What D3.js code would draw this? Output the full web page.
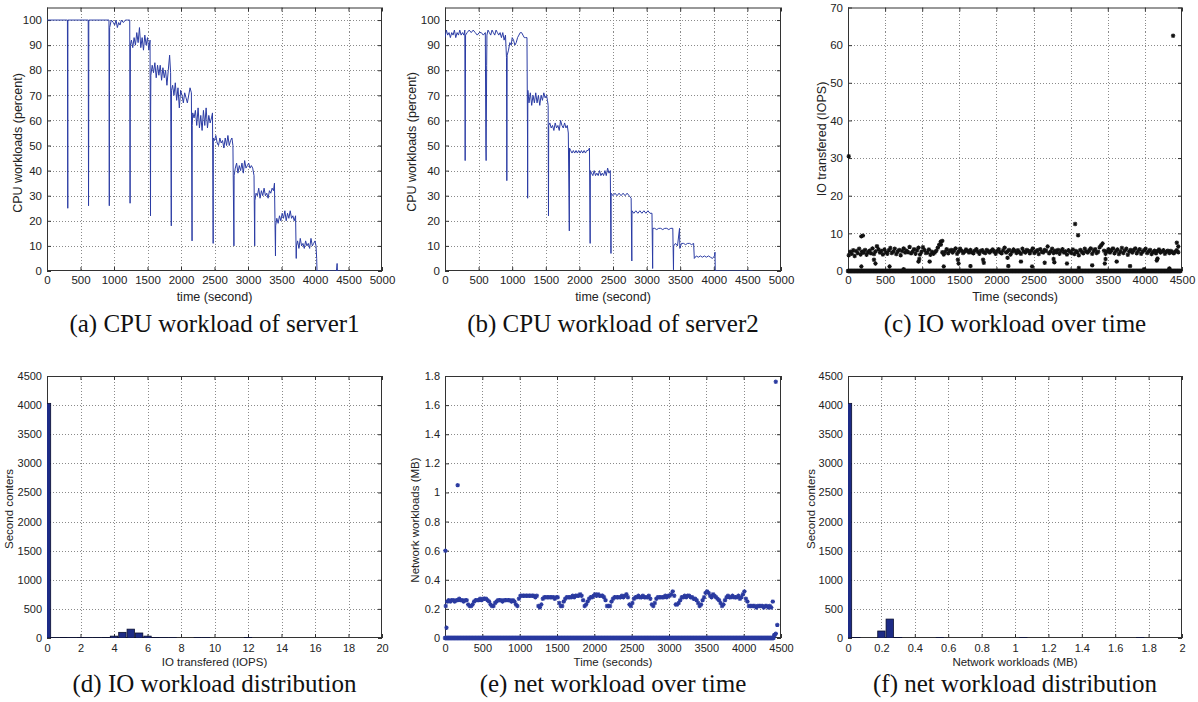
<!DOCTYPE html>
<html><head><meta charset="utf-8">
<script src="https://cdn.jsdelivr.net/npm/d3@7"></script>
<style>
body{margin:0;background:#fff}
.grid{stroke:#8a8a8a;stroke-width:1;stroke-dasharray:1,2;shape-rendering:crispEdges}
.ax text{font-family:"Liberation Sans",Arial,sans-serif;fill:#222}
.ax line{stroke:#333}
.ax path{display:none}
</style>
</head><body><svg id="c" width="1198" height="702"></svg>
<script>
// ---------- DATA ----------
// (a) CPU workload of server1: [time (s), percent]
const cpu1 = [[0,100],[305,100],[310,25],[312,100],[615,100],[620,26],[622,50],[624,100],[925,100],[930,26],[932,72],[935,97],[960,100],[990,99],[1010,98],[1030,100],[1050,97],[1070,99],[1090,98],[1110,100],[1140,99],[1170,100],[1200,100],[1235,100],[1240,27],[1242,61],[1245,90],[1260,92],[1280,89],[1300,93],[1320,90],[1340,95],[1360,91],[1380,97],[1400,89],[1420,93],[1440,88],[1460,94],[1480,90],[1500,93],[1520,88],[1538,92],[1545,22],[1547,63],[1550,78],[1570,82],[1590,79],[1610,83],[1630,77],[1650,82],[1670,78],[1690,82],[1710,76],[1730,81],[1750,77],[1770,80],[1790,74],[1810,80],[1830,86],[1845,79],[1855,18],[1858,72],[1875,74],[1895,70],[1915,75],[1935,68],[1955,73],[1975,65],[1995,72],[2015,70],[2035,67],[2055,71],[2075,69],[2095,67],[2115,70],[2135,73],[2155,71],[2165,12],[2168,58],[2175,63],[2195,61],[2215,64],[2235,58],[2255,65],[2275,57],[2295,62],[2315,56],[2335,64],[2355,58],[2375,65],[2395,57],[2415,62],[2435,59],[2455,61],[2470,63],[2480,11],[2483,53],[2500,52],[2520,54],[2540,51],[2560,50],[2580,53],[2600,51],[2620,52],[2640,49],[2660,53],[2680,50],[2700,54],[2720,50],[2740,52],[2760,53],[2775,50],[2790,10],[2793,38],[2810,41],[2830,43],[2850,39],[2870,42],[2890,40],[2910,43],[2930,39],[2950,44],[2970,41],[2990,42],[3010,43],[3030,41],[3050,42],[3070,41],[3090,38],[3100,10],[3103,28],[3120,31],[3140,30],[3160,33],[3180,29],[3200,32],[3220,30],[3240,33],[3260,30],[3280,31],[3300,29],[3320,32],[3340,31],[3360,33],[3380,32],[3395,35],[3410,6],[3413,18],[3430,21],[3450,19],[3470,22],[3490,20],[3510,23],[3530,21],[3550,24],[3570,20],[3590,23],[3610,21],[3630,24],[3650,21],[3670,22],[3690,20],[3710,22],[3720,5],[3723,10],[3740,12],[3760,9],[3780,13],[3800,10],[3820,11],[3840,9],[3860,12],[3880,10],[3900,11],[3920,9],[3940,13],[3960,10],[3980,11],[4000,12],[4015,10],[4025,5],[4030,0],[4320,0],[4330,3],[4335,0],[4450,0]];

// (b) CPU workload of server2: [time (s), percent]
const cpu2 = [[0,93],[20,96],[40,94],[60,95],[80,93],[100,95],[120,94],[140,96],[160,93],[180,95],[200,94],[220,96],[240,94],[260,95],[280,94],[295,96],[300,44],[303,70],[306,94],[330,95],[360,96],[390,95],[420,96],[450,95],[480,94],[510,95],[540,95],[570,94],[600,95],[608,50],[612,44],[615,57],[620,82],[624,94],[640,96],[660,95],[680,94],[700,96],[720,95],[740,94],[760,96],[780,95],[800,94],[820,95],[840,93],[860,95],[880,92],[900,94],[915,85],[920,36],[922,51],[925,86],[945,88],[965,91],[985,90],[1000,93],[1020,92],[1040,90],[1060,91],[1080,93],[1100,94],[1120,95],[1140,95],[1160,94],[1180,93],[1200,93],[1220,93],[1228,53],[1230,29],[1233,72],[1250,67],[1270,71],[1290,66],[1310,70],[1330,67],[1350,71],[1370,67],[1390,70],[1410,66],[1430,70],[1450,68],[1470,71],[1490,69],[1510,70],[1525,68],[1535,66],[1540,22],[1543,58],[1560,59],[1580,57],[1600,58],[1620,56],[1640,59],[1660,57],[1680,58],[1700,56],[1720,60],[1740,58],[1760,57],[1780,59],[1800,57],[1820,58],[1835,55],[1850,16],[1853,49],[1870,48],[1890,47],[1910,48],[1930,47],[1950,48],[1970,47],[1990,48],[2010,47],[2030,48],[2050,47],[2070,48],[2090,47],[2110,48],[2130,48],[2150,49],[2160,11],[2163,40],[2180,39],[2200,38],[2220,40],[2240,38],[2260,39],[2280,38],[2300,40],[2320,38],[2340,39],[2360,38],[2380,40],[2400,38],[2420,41],[2440,39],[2460,40],[2470,7],[2473,31],[2500,30],[2530,31],[2560,30],[2590,31],[2620,30],[2650,31],[2680,30],[2710,31],[2740,30],[2770,29],[2780,4],[2783,24],[2810,23],[2840,24],[2870,23],[2900,24],[2930,23],[2960,24],[2990,23],[3020,24],[3050,23],[3080,23],[3090,1],[3093,17],[3120,17],[3150,16.5],[3180,17],[3210,17],[3240,16.5],[3270,17],[3300,17],[3330,16.5],[3360,17],[3390,17],[3400,0.5],[3403,10],[3430,11],[3460,10],[3490,17],[3495,9],[3520,11],[3550,11],[3580,10.5],[3610,11],[3640,11],[3670,10.5],[3700,11],[3710,5],[3740,6],[3770,5.5],[3800,6],[3830,5.5],[3860,6],[3890,5.5],[3920,6],[3950,5.5],[3980,5],[4010,6],[4018,7.5],[4022,0],[4580,0]];

// (c) IO transferred: regular samples (first sample time, sampling step in s) and values (IOPS)
const ioBandStart = 10, ioBandStep = 20;
const ioBand = [4.2,5.1,4.6,5.5,4.0,5.3,4.8,5.9,4.4,5.2,
4.9,5.6,4.3,5.0,5.4,4.7,6.0,4.5,5.2,6.6,
5.8,4.9,5.3,4.4,5.7,5.0,4.6,5.5,6.1,4.8,
5.2,5.9,4.5,5.1,5.6,4.2,5.3,6.0,4.9,5.4,
5.0,6.4,4.7,5.2,5.8,4.6,5.5,6.2,4.4,5.1,
6.3,5.6,4.8,5.0,5.7,4.3,5.1,4.6,4.9,5.4,
6.2,7.0,7.8,5.0,4.4,5.1,5.8,4.7,5.3,5.6,
4.9,5.5,6.0,4.6,5.2,5.9,5.4,4.8,5.1,5.7,
5.3,4.9,5.6,5.0,4.7,5.4,5.8,5.1,4.6,5.3,
5.5,5.0,4.8,5.6,5.2,4.9,5.4,5.7,5.1,4.6,
5.3,5.8,5.0,4.7,5.5,6.2,4.9,5.2,5.6,4.4,
5.1,5.7,5.3,4.8,5.5,5.0,4.6,5.9,5.2,4.9,
5.6,5.3,4.7,5.4,6.0,4.8,5.2,5.5,4.5,5.8,
5.1,4.9,5.6,5.3,6.5,4.7,5.2,5.9,4.8,5.4,
5.0,5.6,4.6,5.3,5.8,4.9,5.2,4.4,5.5,5.1,
4.8,5.7,4.5,5.3,5.0,4.2,5.6,5.1,4.7,5.9,
5.2,4.9,5.5,6.0,4.6,5.3,5.8,4.8,5.1,6.3,
6.8,7.3,5.4,4.6,5.2,5.8,4.9,5.5,6.0,4.7,
5.3,5.7,4.5,5.1,6.1,4.8,5.4,5.9,4.3,5.2,
5.6,4.9,5.5,6.0,4.7,5.3,5.8,4.6,5.1,5.5,
5.9,4.8,5.2,5.6,4.5,5.0,5.4,4.7,5.3,5.7,
4.9,5.2,5.5,4.6,5.1,5.4,4.8,5.3,5.0,4.7,
5.2,5.5,5.0];
// seconds with zero IO (dense row on the axis): start, end, step
const ioZeroStart = 0, ioZeroEnd = 4480, ioZeroStep = 8;
const ioOther = [[10,30.5],[180,9.2],[200,9.4],[1250,7.0],[1270,8.0],[3060,12.5],[3100,9.5],[4380,62.5],[4430,7.5],[4450,6.5],
[180,1.2],[350,3.0],[370,2.0],[560,1.2],[750,0.5],[950,2.5],[960,3.2],[1100,2.5],[1290,1.2],[1480,3.0],[1490,2.0],[1650,1.3],[1820,3.0],[1830,2.2],[2150,3.5],[2160,1.3],[2330,2.5],[2480,1.2],[2650,2.2],[2770,3.2],[2780,2.3],[2950,2.0],[3110,0.8],[3290,1.5],[3460,2.0],[3470,3.2],[3620,2.5],[3800,1.3],[3990,0.5],[4160,2.8],[4170,3.3],[4330,0.7]];

// (d) IO workload distribution: bin centres (IOPS) and second counters
const ioHistBins   = [0,0.5,1,1.5,2,2.5,3,3.5,4,4.5,5,5.5,6,6.5,7,7.5,9,9.5,12];
const ioHistCounts = [4030,5,8,6,10,5,6,8,32,97,152,86,32,8,6,5,6,5,8];

// (e) network workload: regular samples (MB)
const netBandStart = 10, netBandStep = 20;
const netBand = [0.22,0.25,0.26,0.25,0.26,0.26,0.25,0.26,0.26,0.27,0.26,0.26,0.25,0.26,0.26,
0.23,0.22,0.22,0.23,0.25,
0.26,0.26,0.26,0.27,0.26,0.27,0.27,0.27,0.26,0.25,0.23,
0.22,0.22,0.24,0.25,
0.26,0.26,0.26,0.25,0.26,0.26,0.26,0.26,0.26,0.25,0.26,0.25,0.23,0.22,
0.27,0.29,0.29,0.29,0.29,0.29,0.29,0.29,0.29,0.29,0.29,0.28,0.29,
0.22,0.21,0.23,
0.27,0.28,0.28,0.28,0.28,0.28,0.28,0.28,0.27,0.28,0.28,0.24,0.22,0.22,
0.25,0.27,0.28,0.28,0.28,0.28,0.29,0.28,0.29,0.29,0.29,0.30,0.29,0.26,
0.22,0.23,0.25,
0.27,0.28,0.28,0.29,0.30,0.29,0.30,0.29,0.29,0.29,0.28,0.26,
0.22,0.22,0.22,
0.25,0.27,0.28,0.28,0.28,0.28,0.28,0.29,0.28,0.29,0.30,0.28,
0.23,0.22,0.24,
0.27,0.28,0.28,0.29,0.28,0.28,0.29,0.28,0.28,0.28,0.29,0.27,
0.23,0.22,0.24,
0.27,0.28,0.28,0.28,0.28,0.28,0.29,0.28,0.29,0.29,0.30,0.32,
0.29,0.23,0.23,
0.24,0.26,0.28,0.28,0.29,0.28,0.29,0.29,0.28,0.28,0.27,0.27,0.26,
0.24,0.22,0.23,
0.26,0.28,0.31,0.32,0.31,0.29,0.28,0.30,0.29,0.28,0.27,0.26,0.24,
0.22,0.23,
0.26,0.28,0.29,0.28,0.28,0.29,0.28,0.28,0.28,0.29,0.27,0.28,0.30,
0.32,0.27,0.25,
0.22,0.22,0.22,0.22,0.22,0.21,0.22,0.22,0.22,0.22,0.21,0.22,0.22,0.21,0.22,0.21,0.25,
0.02,0.03,0.09];
const netZeroStart = 0, netZeroEnd = 4400, netZeroStep = 8;
const netOther = [[5,0.6],[20,0.07],[170,1.05],[4430,1.76],[4415,0.02]];

// (f) network workload distribution: bin centres (MB) and second counters
const netHistBins   = [0,0.05,0.2,0.25,0.3,0.55,1.05,1.75];
const netHistCounts = [4030,8,120,325,8,6,6,6];

// tick labels
const ticksTime5000 = [0,500,1000,1500,2000,2500,3000,3500,4000,4500,5000];
const ticksTime4500 = [0,500,1000,1500,2000,2500,3000,3500,4000,4500];
const ticksPercent  = [0,10,20,30,40,50,60,70,80,90,100];
const ticksIops70   = [0,10,20,30,40,50,60,70];
const ticksIops20   = [0,2,4,6,8,10,12,14,16,18,20];
const ticksCount    = [0,500,1000,1500,2000,2500,3000,3500,4000,4500];
const ticksMB18     = [0,0.2,0.4,0.6,0.8,1,1.2,1.4,1.6,1.8];
const ticksMB2      = [0,0.2,0.4,0.6,0.8,1,1.2,1.4,1.6,1.8,2];

// ---------- DRAWING ----------
const svg = d3.select("#c");
const BLUE = "#2b3ca4", NAVY = "#1d2b86";
const cols = [[47,382],[445,781],[848,1182]];
const rows = [{top:7.5,bottom:271,tickPad:4.8,fs:11.5,xlab:300.5,cap:332},
              {top:376,bottom:638,tickPad:6.3,fs:11,xlab:666,cap:692}];
let clipId = 0;

function panel(p){
  const [L,R] = cols[p.col], rw = rows[p.row];
  const T = rw.top, B = rw.bottom;
  const x = d3.scaleLinear().domain(p.xDomain).range([L,R]);
  const y = d3.scaleLinear().domain(p.yDomain).range([B,T]);
  const g = svg.append("g");
  const gx = p.xTicks.filter(t=>t>p.xDomain[0]&&t<p.xDomain[1]);
  const gy = p.yTicks.filter(t=>t>p.yDomain[0]&&t<p.yDomain[1]);
  g.append("g").selectAll("line").data(gx).join("line").attr("class","grid")
    .attr("x1",d=>Math.round(x(d))+0.5).attr("x2",d=>Math.round(x(d))+0.5).attr("y1",T).attr("y2",B);
  g.append("g").selectAll("line").data(gy).join("line").attr("class","grid")
    .attr("y1",d=>Math.round(y(d))+0.5).attr("y2",d=>Math.round(y(d))+0.5).attr("x1",L).attr("x2",R);
  const id = "clip"+(clipId++);
  g.append("clipPath").attr("id",id).append("rect").attr("x",L).attr("y",T).attr("width",R-L).attr("height",B-T);
  const m = g.append("g");
  if (p.clip) m.attr("clip-path",`url(#${id})`);
  const fmt = d=>String(d);
  g.append("g").attr("class","ax").attr("transform",`translate(0,${B})`)
    .call(d3.axisBottom(x).tickValues(p.xTicks).tickSize(-4).tickPadding(rw.tickPad).tickFormat(fmt))
    .selectAll("text").style("font-size",rw.fs+"px");
  g.append("g").attr("class","ax").attr("transform",`translate(0,${T})`)
    .call(d3.axisTop(x).tickValues(p.xTicks).tickSize(-4).tickFormat(""));
  g.append("g").attr("class","ax").attr("transform",`translate(${L},0)`)
    .call(d3.axisLeft(y).tickValues(p.yTicks).tickSize(-4).tickPadding(5).tickFormat(fmt))
    .selectAll("text").style("font-size",rw.fs+"px");
  g.append("g").attr("class","ax").attr("transform",`translate(${R},0)`)
    .call(d3.axisRight(y).tickValues(p.yTicks).tickSize(-4).tickFormat(""));
  g.append("rect").attr("x",L+0.5).attr("y",T+0.5).attr("width",R-L-1).attr("height",B-T-1)
    .attr("fill","none").attr("stroke","#333").attr("stroke-width",1);
  p.draw(m,x,y);
  m.raise();
  g.append("text").attr("x",(L+R)/2).attr("y",rw.xlab).attr("text-anchor","middle")
    .style("font-family","Liberation Sans,Arial,sans-serif").style("font-size",(p.row?11.5:12.5)+"px").attr("fill","#222")
    .text(p.xLabel);
  g.append("text").attr("transform",`translate(${p.ylabX},${p.ylabY}) rotate(-90)`)
    .attr("text-anchor","middle").attr("dominant-baseline","central")
    .style("font-family","Liberation Sans,Arial,sans-serif").style("font-size",(p.row?11.5:12.5)+"px").attr("fill","#222")
    .text(p.yLabel);
  g.append("text").attr("x",(L+R)/2).attr("y",rw.cap).attr("text-anchor","middle")
    .style("font-family","Liberation Serif,Times New Roman,serif").style("font-size","25px")
    .attr("fill","#111")
    .text(p.caption);
}

function lineDraw(data){
  return (m,x,y)=>m.append("path").datum(data).attr("fill","none").attr("stroke",BLUE).attr("stroke-width",1)
    .attr("d",d3.line().x(d=>x(d[0])).y(d=>y(d[1])));
}
const starPath = "M-2.2,0H2.2M0,-2.2V2.2M-1.6,-1.6L1.6,1.6M-1.6,1.6L1.6,-1.6";
function scatterDraw(band,start,step,zs,ze,zstep,other,color){
  return (m,x,y)=>{
    const pts = band.map((v,i)=>[start+i*step,v]).concat(other);
    const zeros = d3.range(zs,ze+1,zstep).map(t=>[t,0]);
    m.append("g").selectAll("path").data(zeros.concat(pts)).join("path")
      .attr("d",starPath).attr("transform",d=>`translate(${x(d[0])},${y(d[1])})`)
      .attr("stroke",color).attr("stroke-width",1.1).attr("fill","none");
  };
}
function histDraw(bins,counts,w){
  return (m,x,y)=>m.append("g").selectAll("rect").data(bins.map((b,i)=>[b,counts[i]])).join("rect")
    .attr("x",d=>x(d[0]-w/2)).attr("width",d=>x(d[0]+w/2)-x(d[0]-w/2))
    .attr("y",d=>y(d[1])).attr("height",d=>y(0)-y(d[1]))
    .attr("fill",NAVY).attr("stroke","#0a0f30").attr("stroke-width",0.8);
}

panel({col:0,row:0,clip:true,xDomain:[0,5000],yDomain:[0,105],xTicks:ticksTime5000,yTicks:ticksPercent,
  xLabel:"time (second)",yLabel:"CPU workloads (percent)",ylabX:17.5,ylabY:143,
  caption:"(a) CPU workload of server1",draw:lineDraw(cpu1)});
panel({col:1,row:0,clip:true,xDomain:[0,5000],yDomain:[0,105],xTicks:ticksTime5000,yTicks:ticksPercent,
  xLabel:"time (second)",yLabel:"CPU workloads (percent)",ylabX:412,ylabY:142,
  caption:"(b) CPU workload of server2",draw:lineDraw(cpu2)});
panel({col:2,row:0,clip:false,xDomain:[0,4500],yDomain:[0,70],xTicks:ticksTime4500,yTicks:ticksIops70,
  xLabel:"Time (seconds)",yLabel:"IO transfered (IOPS)",ylabX:821.5,ylabY:139,
  caption:"(c) IO workload over time",
  draw:scatterDraw(ioBand,ioBandStart,ioBandStep,ioZeroStart,ioZeroEnd,ioZeroStep,ioOther,"#111")});
panel({col:0,row:1,clip:true,xDomain:[0,20],yDomain:[0,4500],xTicks:ticksIops20,yTicks:ticksCount,
  xLabel:"IO transfered (IOPS)",yLabel:"Second conters",ylabX:8.5,ylabY:509,
  caption:"(d) IO workload distribution",draw:histDraw(ioHistBins,ioHistCounts,0.44)});
panel({col:1,row:1,clip:false,xDomain:[0,4500],yDomain:[0,1.8],xTicks:ticksTime4500,yTicks:ticksMB18,
  xLabel:"Time (seconds)",yLabel:"Network workloads (MB)",ylabX:414.5,ylabY:520,
  caption:"(e) net workload over time",
  draw:scatterDraw(netBand,netBandStart,netBandStep,netZeroStart,netZeroEnd,netZeroStep,netOther,"#2a3aa0")});
panel({col:2,row:1,clip:true,xDomain:[0,2],yDomain:[0,4500],xTicks:ticksMB2,yTicks:ticksCount,
  xLabel:"Network workloads (MB)",yLabel:"Second conters",ylabX:811,ylabY:509,
  caption:"(f) net workload distribution",draw:histDraw(netHistBins,netHistCounts,0.044)});
</script></body></html>
